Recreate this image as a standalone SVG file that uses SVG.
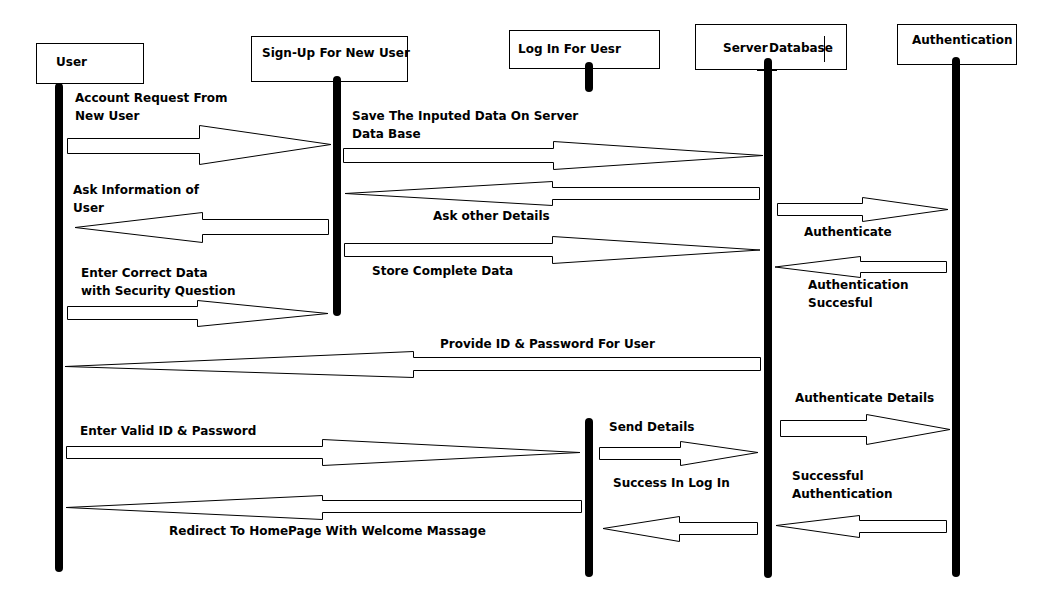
<svg xmlns="http://www.w3.org/2000/svg" width="1041" height="593" viewBox="0 0 1041 593">
<style>
.box{fill:#fff;stroke:#000;stroke-width:1}
.life{stroke:#000;stroke-width:8;stroke-linecap:round;fill:none}
.arr{fill:#fff;stroke:#000;stroke-width:1;stroke-linejoin:miter}
text{font-family:"DejaVu Sans","Liberation Sans",sans-serif;font-weight:bold;font-size:12px;fill:#000}
</style>
<rect width="1041" height="593" fill="#fff"/>
<g id="user">
<rect class="box" x="36.5" y="43.5" width="107" height="40"/>
<line class="life" x1="59" y1="87" x2="59" y2="568"/>
<text x="56" y="66">User</text>
</g>
<g id="signup">
<rect class="box" x="251.5" y="36.5" width="156" height="45"/>
<line class="life" x1="337" y1="80" x2="337" y2="312"/>
<text x="262" y="57">Sign-Up For New User</text>
</g>
<g id="login">
<rect class="box" x="509.5" y="30.5" width="150" height="38"/>
<line class="life" x1="589" y1="66" x2="589" y2="88"/>
<line class="life" x1="589" y1="422" x2="589" y2="573"/>
<text x="518" y="53">Log In For Uesr</text>
</g>
<g id="server">
<rect class="box" x="695.5" y="24.5" width="151" height="45"/>
<line class="life" x1="768" y1="62" x2="768" y2="574"/>
<line x1="757" y1="70" x2="777" y2="70" stroke="#000" stroke-width="2"/>
<text x="723" y="52">Server</text>
<text x="769" y="52">Database</text>
<line x1="824.5" y1="36" x2="824.5" y2="62" stroke="#000" stroke-width="1"/>
</g>
<g id="auth">
<rect class="box" x="897.5" y="24.5" width="119" height="40"/>
<line class="life" x1="956" y1="61" x2="956" y2="573"/>
<text x="912" y="44">Authentication</text>
</g>
<g id="connectors">
<polygon class="arr" points="67.5,138.5 199.5,138.5 199.5,125.5 331,144.5 199.5,164.5 199.5,153.5 67.5,153.5"/>
<text x="75" y="102">Account Request From</text>
<text x="75" y="120">New User</text>

<polygon class="arr" points="343.5,148.5 553.5,148.5 553.5,141.5 763,155.5 553.5,169.5 553.5,162.5 343.5,162.5"/>
<text x="352" y="120">Save The Inputed Data On Server</text>
<text x="352" y="138">Data Base</text>

<polygon class="arr" points="759.5,187.5 552.5,187.5 552.5,181.5 345,193.5 552.5,205.5 552.5,199.5 759.5,199.5"/>
<text x="433" y="220">Ask other Details</text>

<polygon class="arr" points="328.5,219.5 202.5,219.5 202.5,212.5 75,227.5 202.5,242.5 202.5,234.5 328.5,234.5"/>
<text x="73" y="194">Ask Information of</text>
<text x="73" y="212">User</text>

<polygon class="arr" points="344.5,243.5 552.5,243.5 552.5,236.5 760,250 552.5,263.5 552.5,256.5 344.5,256.5"/>
<text x="372" y="275">Store Complete Data</text>

<polygon class="arr" points="777.5,203.5 862.5,203.5 862.5,197.5 948,209.5 862.5,221.5 862.5,215.5 777.5,215.5"/>
<text x="804" y="236">Authenticate</text>

<polygon class="arr" points="946.5,261.5 860.5,261.5 860.5,256.5 775,267 860.5,277.5 860.5,272.5 946.5,272.5"/>
<text x="808" y="289">Authentication</text>
<text x="808" y="307">Succesful</text>

<polygon class="arr" points="67.5,306.5 197.5,306.5 197.5,300.5 328,313.5 197.5,326.5 197.5,319.5 67.5,319.5"/>
<text x="81" y="277">Enter Correct Data</text>
<text x="81" y="295">with Security Question</text>

<polygon class="arr" points="760.5,357.5 413.5,357.5 413.5,351.5 65,366.5 413.5,377.5 413.5,370.5 760.5,370.5"/>
<text x="440" y="348">Provide ID &amp; Password For User</text>

<polygon class="arr" points="780.5,420.5 866.5,420.5 866.5,414.5 950,429.5 866.5,444.5 866.5,436.5 780.5,436.5"/>
<text x="795" y="402">Authenticate Details</text>

<polygon class="arr" points="66.5,446.5 322.5,446.5 322.5,439.5 580,452.5 322.5,465.5 322.5,458.5 66.5,458.5"/>
<text x="80" y="435">Enter Valid ID &amp; Password</text>

<polygon class="arr" points="599.5,447.5 680.5,447.5 680.5,441.5 758,452.5 680.5,465.5 680.5,459.5 599.5,459.5"/>
<text x="609" y="431">Send Details</text>

<polygon class="arr" points="581.5,500.5 322.5,500.5 322.5,495.5 66,507.5 322.5,519.5 322.5,512.5 581.5,512.5"/>
<text x="169" y="535">Redirect To HomePage With Welcome Massage</text>

<polygon class="arr" points="757.5,522.5 679.5,522.5 679.5,516.5 603,528.5 679.5,541.5 679.5,534.5 757.5,534.5"/>
<text x="613" y="487">Success In Log In</text>

<polygon class="arr" points="946.5,520.5 859.5,520.5 859.5,515.5 776,525.5 859.5,537.5 859.5,532.5 946.5,532.5"/>
<text x="792" y="480">Successful</text>
<text x="792" y="498">Authentication</text>
</g>
</svg>
